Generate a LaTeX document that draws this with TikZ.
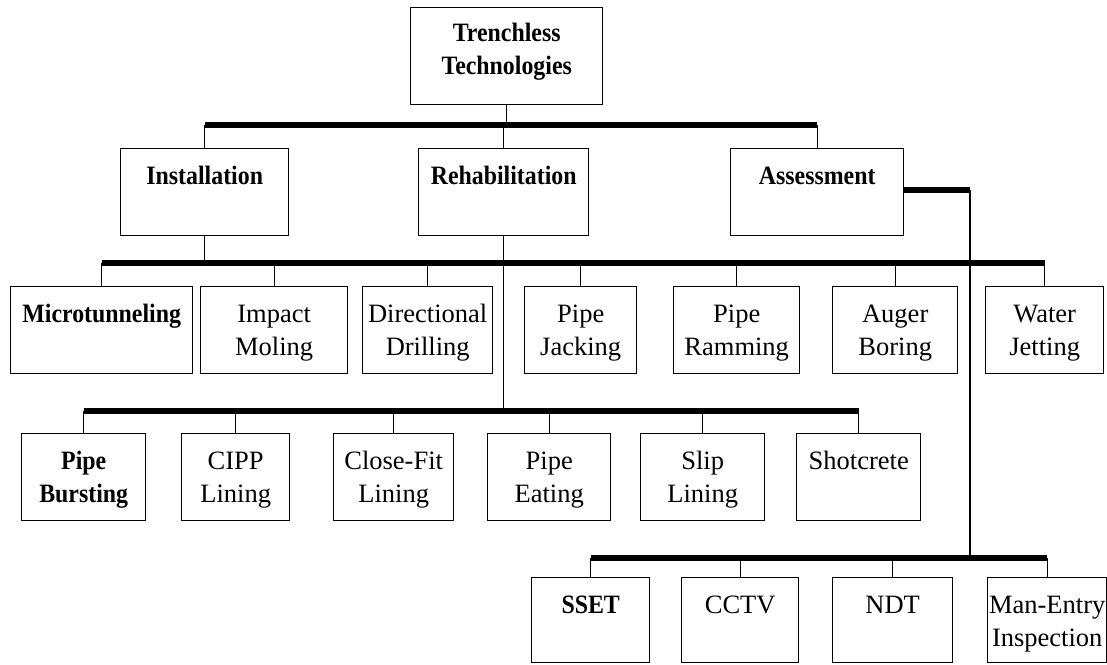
\documentclass[tikz,border=0pt]{standalone}
\usepackage{fontspec}
\setmainfont{Liberation Serif}[BoldFeatures={FakeStretch=0.9}]
\usepackage{tikz}
\tikzstyle{box} = [rectangle, draw=black, line width=1.4pt, anchor=north west, inner sep=0pt, text centered, text height=36pt, text depth=51pt, font=\fontsize{26.5}{33}\selectfont]
\tikzstyle{link} = [line width=1.4pt]
\tikzstyle{bar} = [line width=6pt]

\begin{document}
\begin{tikzpicture}[x=1pt, y=-1pt]
	\useasboundingbox (0,0) rectangle (1107,664);
	\coordinate (lvl1) at (0,125);
	\coordinate (lvl2) at (0,263);
	\coordinate (lvl3) at (0,411);
	\coordinate (lvl4) at (0,558);
	\coordinate (turn) at (970,190);
	\node (root) [box, text width=192pt, text height=34pt, text depth=63pt] at (410,7) {\textbf{Trenchless}\\\textbf{Technologies}};
	\node (inst) [box, text width=168pt] at (120,148) {\textbf{Installation}};
	\node (rehab) [box, text width=170pt] at (418,148) {\textbf{Rehabilitation}};
	\node (assess) [box, text width=173pt] at (730,148) {\textbf{Assessment}};
	\node (micro) [box, text width=182pt] at (10,286) {\textbf{Microtunneling}};
	\node (impact) [box, text width=147pt] at (200,286) {Impact\\Moling};
	\node (direct) [box, text width=130pt] at (362,286) {Directional\\Drilling};
	\node (jack) [box, text width=112pt] at (524,286) {Pipe\\Jacking};
	\node (ram) [box, text width=126pt] at (673,286) {Pipe\\Ramming};
	\node (auger) [box, text width=125pt] at (832,286) {Auger\\Boring};
	\node (water) [box, text width=118pt] at (985,286) {Water\\Jetting};
	\node (burst) [box, text width=124pt] at (21,433) {\textbf{Pipe}\\\textbf{Bursting}};
	\node (cipp) [box, text width=108pt] at (181,433) {CIPP\\Lining};
	\node (close) [box, text width=120pt] at (333,433) {Close-Fit\\Lining};
	\node (eat) [box, text width=123pt] at (487,433) {Pipe\\Eating};
	\node (slip) [box, text width=124pt] at (640,433) {Slip\\Lining};
	\node (shot) [box, text width=124pt] at (796,433) {Shotcrete};
	\node (sset) [box, text width=118pt, text depth=49pt] at (531,577) {\textbf{SSET}};
	\node (cctv) [box, text width=117pt, text depth=49pt] at (681,577) {CCTV};
	\node (ndt) [box, text width=120pt, text depth=49pt] at (832,577) {NDT};
	\node (manentry) [box, text width=119pt, text depth=49pt] at (987,577) {Man-Entry\\Inspection};
	\draw [link] (root.south) -- (root.south |- lvl1);
	\draw [bar] (inst.north |- lvl1) -- (assess.north |- lvl1);
	\foreach \n in {inst, rehab, assess}
		\draw [link] (\n.north |- lvl1) -- (\n.north);
	\draw [link] (inst.south) -- (inst.south |- lvl2);
	\draw [bar] (micro.north |- lvl2) -- (water.north |- lvl2);
	\foreach \n in {micro, impact, direct, jack, ram, auger, water}
		\draw [link] (\n.north |- lvl2) -- (\n.north);
	\draw [link] (rehab.south) -- (rehab.south |- lvl3);
	\draw [bar] (burst.north |- lvl3) -- (shot.north |- lvl3);
	\foreach \n in {burst, cipp, close, eat, slip, shot}
		\draw [link] (\n.north |- lvl3) -- (\n.north);
	\draw [bar] (assess.east |- turn) -- (turn);
	\draw [link] (turn) -- (turn |- lvl4);
	\draw [bar] (sset.north |- lvl4) -- (manentry.north |- lvl4);
	\foreach \n in {sset, cctv, ndt, manentry}
		\draw [link] (\n.north |- lvl4) -- (\n.north);
\end{tikzpicture}
\end{document}
